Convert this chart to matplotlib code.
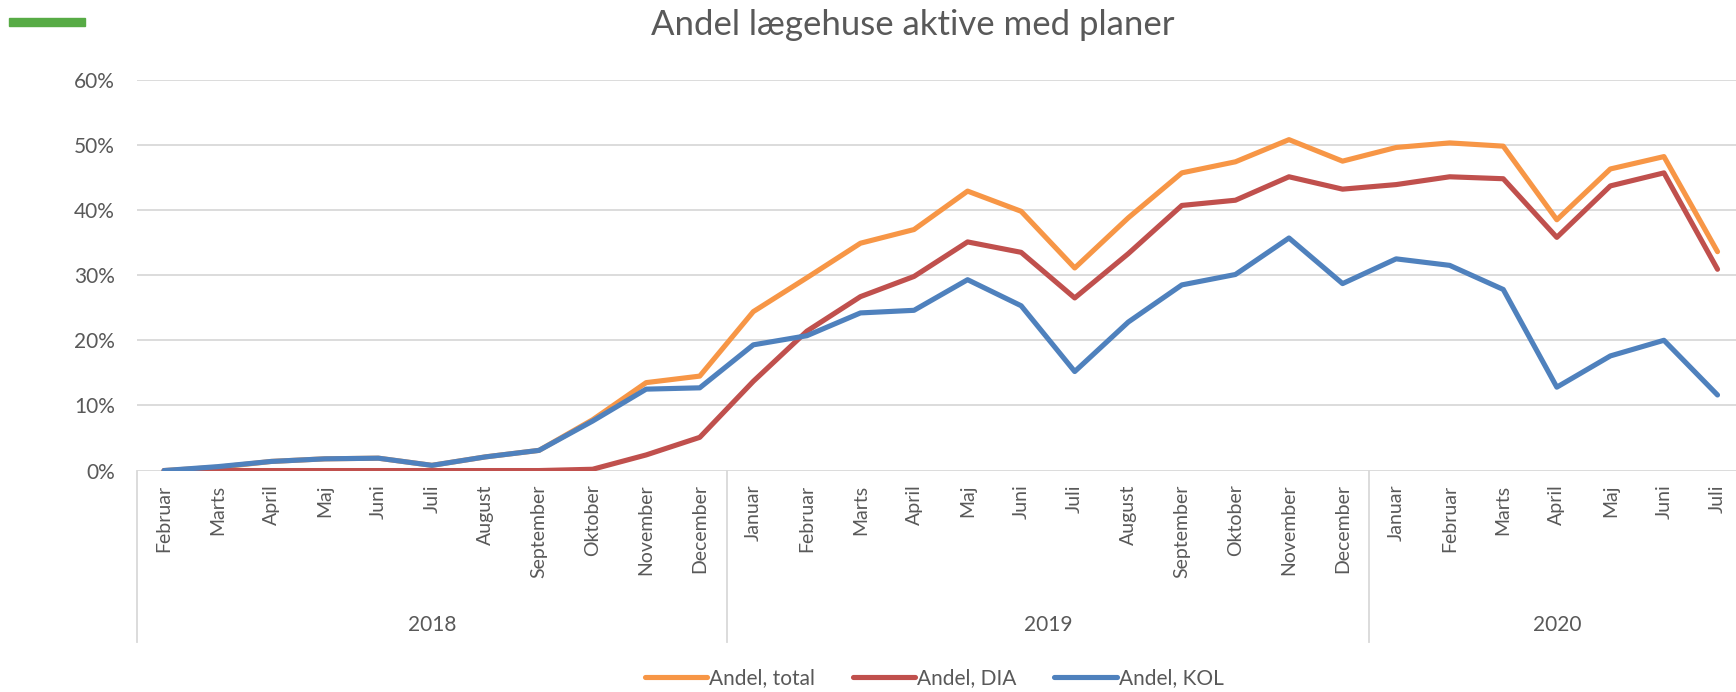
import matplotlib
matplotlib.use("Agg")
import matplotlib.pyplot as plt
import matplotlib.transforms as mtransforms
from matplotlib.patches import Rectangle
from matplotlib.ticker import PercentFormatter

plt.rcParams['font.family'] = ['Lato', 'DejaVu Sans']

# data
months = ["Februar", "Marts", "April", "Maj", "Juni", "Juli", "August",
          "September", "Oktober", "November", "December",
          "Januar", "Februar", "Marts", "April", "Maj", "Juni", "Juli",
          "August", "September", "Oktober", "November", "December",
          "Januar", "Februar", "Marts", "April", "Maj", "Juni", "Juli"]
years = ["2018", "2019", "2020"]
year_counts = [11, 12, 7]

andel_total = [0.0, 0.5, 1.4, 1.8, 1.9, 0.8, 2.1, 3.1, 7.8, 13.5, 14.5,
               24.4, 29.6, 34.9, 37.0, 42.9, 39.8, 31.1, 38.8, 45.7, 47.4,
               50.8, 47.5, 49.6, 50.3, 49.8, 38.5, 46.3, 48.2, 33.6]
andel_dia = [0.0, 0.0, 0.0, 0.0, 0.0, 0.0, 0.0, 0.0, 0.2, 2.4, 5.1,
             13.7, 21.4, 26.7, 29.8, 35.1, 33.5, 26.5, 33.3, 40.7, 41.5,
             45.1, 43.2, 43.9, 45.1, 44.8, 35.8, 43.7, 45.7, 30.9]
andel_kol = [0.0, 0.6, 1.4, 1.8, 1.9, 0.8, 2.1, 3.1, 7.6, 12.5, 12.7,
             19.3, 20.7, 24.2, 24.6, 29.3, 25.3, 15.2, 22.8, 28.5, 30.1,
             35.7, 28.7, 32.5, 31.5, 27.8, 12.8, 17.6, 20.0, 11.6]

TEXT = '#595959'
GRID = '#D9D9D9'

fig = plt.figure(figsize=(17.36, 6.92), dpi=100)
# the plot area runs slightly past the right edge of the picture
ax = fig.add_axes([137.3 / 1736, 0.32, 1607 / 1736, 0.5648])

x = list(range(len(months)))
ax.plot(x, andel_total, color='#F79646', lw=3.7, solid_capstyle='round', label='Andel, total')
ax.plot(x, andel_dia, color='#C0504D', lw=3.7, solid_capstyle='round', label='Andel, DIA')
ax.plot(x, andel_kol, color='#4F81BD', lw=3.7, solid_capstyle='round', label='Andel, KOL')

ax.set_xlim(-0.5, len(months) - 0.5)
ax.set_ylim(0, 60)
ax.set_yticks(range(0, 61, 10))
ax.yaxis.set_major_formatter(PercentFormatter(decimals=0))
ax.grid(axis='y', color=GRID, lw=1.3)
ax.set_axisbelow(True)
for s in ax.spines.values():
    s.set_visible(False)
ax.tick_params(axis='y', length=0, pad=16, labelsize=15, labelcolor=TEXT)

ax.set_xticks(x)
ax.set_xticklabels(months, rotation=90)
ax.tick_params(axis='x', length=0, pad=10, labelsize=14, labelcolor=TEXT)

# year groups with separators
trans = mtransforms.blended_transform_factory(ax.transData, ax.transAxes)
start = -0.5
ax.plot([start, start], [0, -0.438], transform=trans, color=GRID, lw=1.3, clip_on=False)
for yr, n in zip(years, year_counts):
    end = start + n
    ax.plot([end, end], [0, -0.438], transform=trans, color=GRID, lw=1.3, clip_on=False)
    ax.text((start + end) / 2, -0.395, yr, transform=trans, ha='center', va='center',
            fontsize=15, color=TEXT)
    start = end

fig.text(913 / 1736, 1 - 25 / 692, 'Andel lægehuse aktive med planer',
         ha='center', va='center', fontsize=25, color=TEXT)

fig.patches.append(Rectangle((9 / 1736, 1 - 26 / 692), 76 / 1736, 8 / 692,
                             transform=fig.transFigure, color='#57AB45'))

leg = fig.legend(loc='center', bbox_to_anchor=(934 / 1736, 1 - 678 / 692), ncol=3,
                 frameon=False, fontsize=15, handlelength=3.0, handletextpad=0.1,
                 columnspacing=1.8)
for t in leg.get_texts():
    t.set_color(TEXT)

fig.savefig('out.png', dpi=100)
